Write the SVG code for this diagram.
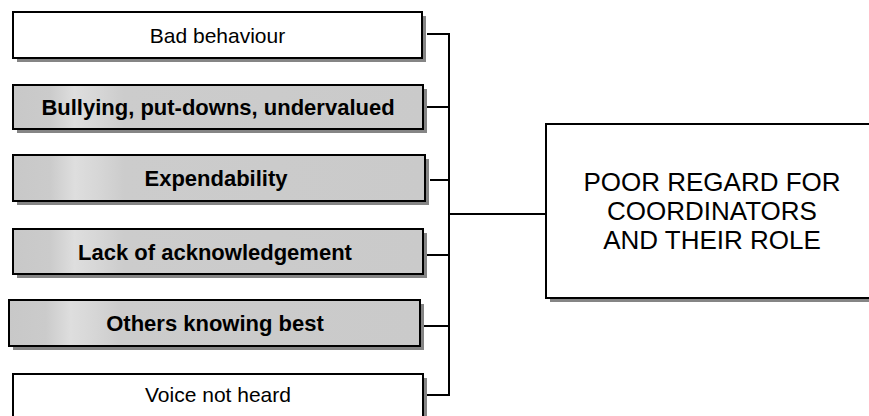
<svg xmlns="http://www.w3.org/2000/svg" width="869" height="416" viewBox="0 0 869 416">
  <defs>
    <!-- halftone-like grey fill with a lighter band near the left -->
    <linearGradient id="greyFill" x1="0" y1="0" x2="1" y2="0">
      <stop offset="0" stop-color="#c8c8c8"/>
      <stop offset="0.09" stop-color="#cbcbcb"/>
      <stop offset="0.15" stop-color="#dedede"/>
      <stop offset="0.21" stop-color="#d6d6d6"/>
      <stop offset="0.27" stop-color="#cccccc"/>
      <stop offset="1" stop-color="#cacaca"/>
    </linearGradient>
  </defs>
  <style>
    .shadow { fill: #858585; }
    .box { stroke: #000; stroke-width: 2; }
    .plain { fill: #fff; }
    .grey { fill: url(#greyFill); }
    .lbl { font-family: "Liberation Sans", Arial, sans-serif; font-size: 21px; fill: #000; text-anchor: middle; }
    .bold { font-weight: bold; font-size: 22px; }
    .big { font-family: "Liberation Sans", Arial, sans-serif; font-size: 26px; fill: #000; text-anchor: middle; }
    .conn { fill: none; stroke: #000; stroke-width: 2; }
  </style>
  <rect width="869" height="416" fill="#fff"/>

  <!-- connectors -->
  <g id="connectors">
    <path class="conn" d="M427 34 H449 V395 H427"/>
    <path class="conn" d="M427 107 H449"/>
    <path class="conn" d="M430 180 H449"/>
    <path class="conn" d="M427 255 H449"/>
    <path class="conn" d="M424 326 H449"/>
    <path class="conn" d="M449 214 H546"/>
  </g>

  <g id="bad-behaviour">
    <rect class="shadow" x="17" y="16" width="409" height="46"/>
    <rect class="box plain" x="13" y="12" width="409" height="46"/>
    <text class="lbl" x="217.5" y="42.5">Bad behaviour</text>
  </g>

  <g id="bullying">
    <rect class="shadow" x="17" y="89" width="410" height="44"/>
    <rect class="box grey" x="13" y="85" width="410" height="44"/>
    <text class="lbl bold" x="218" y="115">Bullying, put-downs, undervalued</text>
  </g>

  <g id="expendability">
    <rect class="shadow" x="17" y="159" width="412" height="46"/>
    <rect class="box grey" x="13" y="155" width="412" height="46"/>
    <text class="lbl bold" x="216" y="186">Expendability</text>
  </g>

  <g id="acknowledgement">
    <rect class="shadow" x="17" y="233" width="410" height="45"/>
    <rect class="box grey" x="13" y="229" width="410" height="45"/>
    <text class="lbl bold" x="215" y="259.5">Lack of acknowledgement</text>
  </g>

  <g id="others-knowing-best">
    <rect class="shadow" x="13" y="304" width="411" height="46"/>
    <rect class="box grey" x="9" y="300" width="411" height="46"/>
    <text class="lbl bold" x="215" y="331">Others knowing best</text>
  </g>

  <g id="voice-not-heard">
    <rect class="shadow" x="17" y="378" width="410" height="50"/>
    <rect class="box plain" x="13" y="374" width="410" height="50"/>
    <text class="lbl" x="218" y="402">Voice not heard</text>
  </g>

  <g id="poor-regard">
    <rect class="shadow" x="550" y="128" width="330" height="174"/>
    <rect class="box plain" x="546" y="124" width="330" height="174"/>
    <text class="big" x="712" y="191">POOR REGARD FOR</text>
    <text class="big" x="712" y="220">COORDINATORS</text>
    <text class="big" x="712" y="249">AND THEIR ROLE</text>
  </g>
</svg>
